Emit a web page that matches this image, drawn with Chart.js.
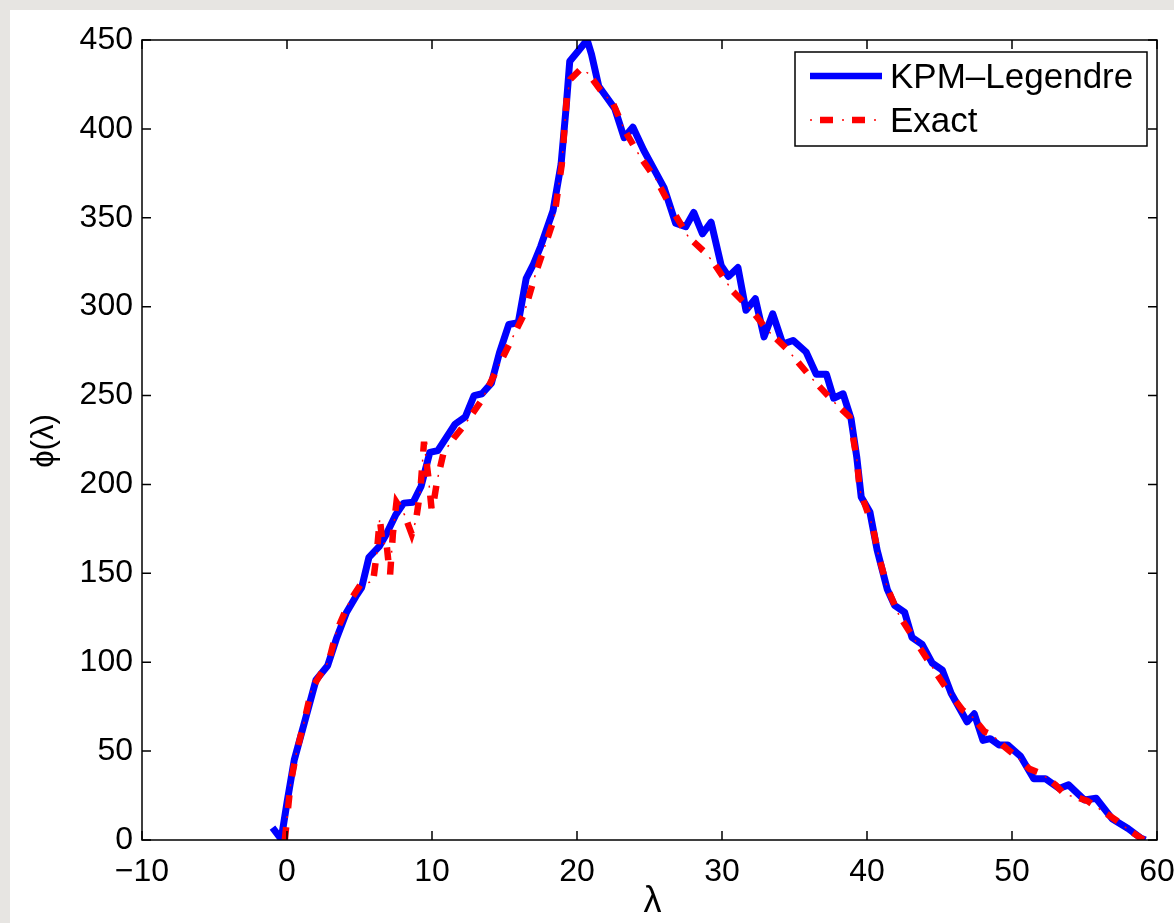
<!DOCTYPE html>
<html>
<head>
<meta charset="utf-8">
<script src="https://cdn.jsdelivr.net/npm/chart.js@4.4.1/dist/chart.umd.min.js"></script>
<style>
  html, body { margin: 0; padding: 0; background: #e7e5e2; overflow: hidden; }
  .panel { position: absolute; left: 10px; top: 10px; width: 1164px; height: 913px; background: #fff; }
  canvas { position: absolute; left: 0; top: 0; }
</style>
</head>
<body>
<div class="panel"></div>
<canvas id="dos" width="1174" height="923"></canvas>
<script>
// KPM-Legendre approximation of the density phi(lambda)
const kpmX = [-1.0, -0.4, 0.0, 0.5, 1.3, 2.0, 2.8, 3.4, 4.1, 4.75, 5.15, 5.65, 6.35, 6.85, 7.5, 8.05, 8.7, 9.25, 9.85, 10.4,
  11.6, 12.3, 12.9, 13.45, 14.1, 14.65, 15.3, 15.95, 16.5, 17.0, 17.5, 18.35, 18.9, 19.25, 19.5, 20.1, 20.7, 21.0, 21.5, 22.6,
  23.25, 23.85, 24.6, 26.0, 26.8, 27.5, 28.05, 28.65, 29.25, 29.95, 30.45, 31.1, 31.65, 32.3, 32.9, 33.5, 34.2, 34.9, 35.8, 36.5,
  37.2, 37.7, 38.35, 38.9, 39.3, 39.6, 40.2, 40.7, 41.4, 41.9, 42.6, 43.1, 43.8, 44.5, 45.2, 45.8, 46.9, 47.4, 48.0, 48.5,
  49.1, 49.7, 50.6, 51.5, 52.3, 53.25, 53.9, 55.0, 55.8, 56.9, 58.0, 58.9, 59.2];
const kpmY = [7, 0.5, 21, 45, 69, 90, 98, 113, 128, 137, 142, 159, 165, 172, 183, 189.5, 190, 199, 218, 219,
  234, 238, 250, 251, 257, 274, 290, 291, 316, 324, 334, 354, 380, 412, 438, 444, 450, 442, 424, 411.5,
  395, 401, 388, 367, 347, 345, 353, 341, 347.5, 323, 317, 322, 298, 304.5, 283, 296, 279, 281, 274.5, 262,
  262, 248.5, 251, 237, 215, 193, 184.5, 163, 141, 132, 128, 114, 110, 99.5, 95.5, 82.5, 66.5, 71, 56, 57,
  53.5, 53.5, 47, 34.5, 34.5, 29, 31, 22.5, 23.5, 12, 6.5, 1, 0];

// exact density
const exactX = [-0.15, 0.25, 0.65, 1.2, 1.7, 2.3, 2.9, 3.4, 4.3, 5.1, 5.7, 5.95, 6.2, 6.4, 6.6, 6.85, 7.1, 7.3, 7.55, 8.1,
  8.6, 8.9, 9.2, 9.45, 9.75, 10.0, 10.35, 10.8, 11.5, 12.2, 13.4, 14.5, 15.4, 16.3, 17.2, 17.7, 18.4, 18.95, 19.3, 19.55,
  20.3, 20.8, 21.6, 22.5, 23.3, 24.3, 25.5, 26.6, 27.7, 28.9, 29.4, 30.7, 32.05, 33.1, 34.5, 36.1, 37.7, 38.8, 39.3, 39.5,
  40.4, 40.8, 41.4, 42.2, 43.3, 44.6, 45.7, 46.6, 47.3, 48.1, 48.65, 49.4, 50.3, 51.2, 52.0, 53.0, 53.65, 54.5, 55.2, 56.3,
  57.2, 58.0, 58.9, 59.1];
const exactY = [0, 32, 49, 67, 85, 93, 101, 117, 134, 144, 145, 146, 162, 181, 166, 168, 148, 172, 190, 183,
  172, 180, 197, 224, 204, 184, 202, 218, 226, 233, 247, 265, 280, 295, 320, 332, 349, 380, 418, 428,
  434, 431, 422, 414, 399, 385, 371, 354, 339, 330, 325, 309, 298, 287, 276, 260.5, 246.5, 238, 214, 197,
  176, 160, 142, 126.5, 112.5, 96, 82.5, 73, 69, 61, 59, 53, 47, 40, 37.5, 31, 25.5, 24, 22, 16,
  11, 6, 1, 0];

const xTicks = [-10, 0, 10, 20, 30, 40, 50, 60];
const yTicks = [0, 50, 100, 150, 200, 250, 300, 350, 400, 450];
const seriesNames = ['KPM\u2013Legendre', 'Exact'];

const FONT = '"Liberation Sans", Arial, Helvetica, sans-serif';
const BLUE = '#0000ff';
const RED = '#ff0000';

function pts(xs, ys) {
  return xs.map((x, i) => ({ x: x, y: ys[i] }));
}

function tickLabel(v) {
  return v < 0 ? '\u2212' + Math.abs(v) : String(v);
}

// box, inward ticks, axis titles and legend like a matlab figure
const matlabFrame = {
  id: 'matlabFrame',
  afterDraw(chart) {
    const ctx = chart.ctx;
    const a = chart.chartArea;
    const x = chart.scales.x;
    const y = chart.scales.y;
    ctx.save();
    ctx.strokeStyle = '#000';
    ctx.lineWidth = 1.5;
    ctx.strokeRect(a.left, a.top, a.right - a.left, a.bottom - a.top);

    ctx.beginPath();
    x.ticks.forEach(t => {
      const px = x.getPixelForValue(t.value);
      ctx.moveTo(px, a.bottom); ctx.lineTo(px, a.bottom - 9);
      ctx.moveTo(px, a.top); ctx.lineTo(px, a.top + 9);
    });
    y.ticks.forEach(t => {
      const py = y.getPixelForValue(t.value);
      ctx.moveTo(a.left, py); ctx.lineTo(a.left + 9, py);
      ctx.moveTo(a.right, py); ctx.lineTo(a.right - 9, py);
    });
    ctx.stroke();

    // axis titles
    ctx.fillStyle = '#000';
    ctx.textAlign = 'center';
    ctx.textBaseline = 'middle';
    ctx.font = '36px ' + FONT;
    ctx.fillText('\u03bb', (a.left + a.right) / 2 + 3, 902);
    ctx.save();
    ctx.translate(44, 441);
    ctx.rotate(-Math.PI / 2);
    ctx.font = '31px ' + FONT;
    ctx.fillText('\u03d5(\u03bb)', 0, 0);
    ctx.restore();

    // legend
    const lx = 795, ly = 52, lw = 352, lh = 94;
    ctx.fillStyle = '#fff';
    ctx.fillRect(lx, ly, lw, lh);
    ctx.lineWidth = 1.5;
    ctx.strokeStyle = '#000';
    ctx.strokeRect(lx, ly, lw, lh);

    ctx.lineCap = 'butt';
    ctx.strokeStyle = BLUE;
    ctx.lineWidth = 6.5;
    ctx.beginPath(); ctx.moveTo(810, 76); ctx.lineTo(882, 76); ctx.stroke();

    ctx.strokeStyle = RED;
    ctx.setLineDash([13, 19]);
    ctx.lineDashOffset = 22;
    ctx.beginPath(); ctx.moveTo(810, 120); ctx.lineTo(880, 120); ctx.stroke();
    ctx.lineWidth = 1.5;
    ctx.setLineDash([2, 30]);
    ctx.lineDashOffset = 0;
    ctx.beginPath(); ctx.moveTo(810, 120); ctx.lineTo(880, 120); ctx.stroke();
    ctx.setLineDash([]);

    ctx.fillStyle = '#000';
    ctx.textAlign = 'left';
    ctx.font = '35px ' + FONT;
    ctx.fillText(seriesNames[0], 890, 78);
    ctx.fillText(seriesNames[1], 890, 122);
    ctx.restore();
  }
};

new Chart(document.getElementById('dos'), {
  type: 'line',
  data: {
    datasets: [
      {
        label: seriesNames[0],
        data: pts(kpmX, kpmY),
        borderColor: BLUE,
        borderWidth: 7,
        borderJoinStyle: 'round',
        pointRadius: 0,
        tension: 0,
        order: 3
      },
      {
        label: seriesNames[1],
        data: pts(exactX, exactY),
        borderColor: RED,
        borderWidth: 6.5,
        borderDash: [13, 19],
        borderDashOffset: 0,
        pointRadius: 0,
        tension: 0,
        order: 2
      },
      {
        // the thin dots of the dash-dot style
        label: seriesNames[1] + ' dots',
        data: pts(exactX, exactY),
        borderColor: RED,
        borderWidth: 1.5,
        borderDash: [2, 30],
        borderDashOffset: 10,
        pointRadius: 0,
        tension: 0,
        order: 1
      }
    ]
  },
  options: {
    responsive: false,
    animation: false,
    devicePixelRatio: 1,
    layout: { padding: { left: 0, right: 17, top: 40, bottom: 0 } },
    plugins: {
      legend: { display: false },
      tooltip: { enabled: false }
    },
    scales: {
      x: {
        type: 'linear',
        min: -10,
        max: 60,
        afterBuildTicks: s => { s.ticks = xTicks.map(v => ({ value: v })); },
        afterFit: s => { s.height = 83; s.paddingLeft = 0; s.paddingRight = 0; },
        grid: { display: false, drawTicks: false },
        border: { display: false },
        ticks: {
          color: '#000',
          padding: 13,
          maxRotation: 0,
          font: { family: FONT, size: 32 },
          callback: tickLabel
        }
      },
      y: {
        type: 'linear',
        min: 0,
        max: 450,
        afterBuildTicks: s => { s.ticks = yTicks.map(v => ({ value: v })); },
        afterFit: s => { s.width = 142; s.paddingTop = 0; s.paddingBottom = 0; },
        grid: { display: false, drawTicks: false },
        border: { display: false },
        ticks: {
          color: '#000',
          padding: 9,
          font: { family: FONT, size: 32 },
          callback: tickLabel
        }
      }
    }
  },
  plugins: [matlabFrame]
});
</script>
</body>
</html>
